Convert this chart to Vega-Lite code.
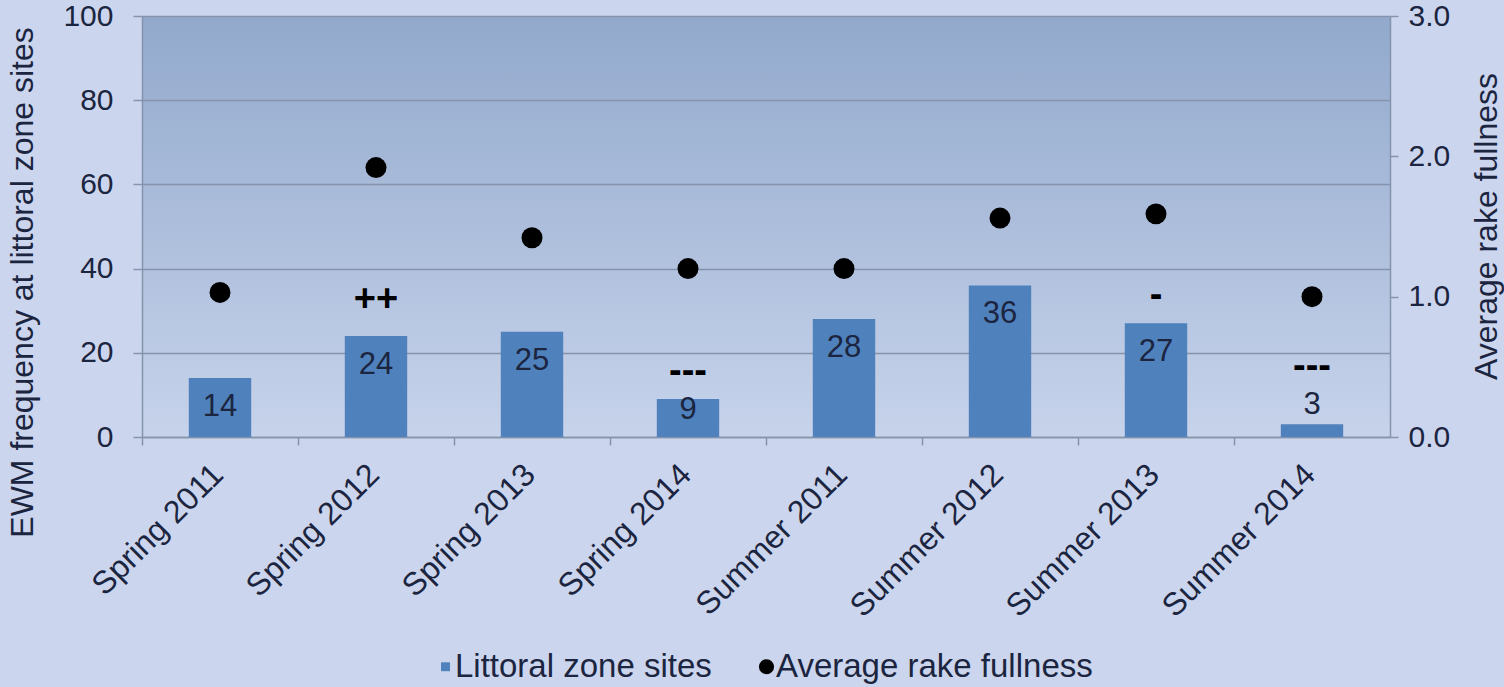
{
  "$schema": "https://vega.github.io/schema/vega-lite/v6.json",
  "width": 1248,
  "height": 421,
  "autosize": {"type": "none"},
  "padding": {"left": 142, "top": 16, "right": 114, "bottom": 250},
  "background": "#cbd6ee",
  "config": {
    "font": "Liberation Sans",
    "view": {
      "stroke": null,
      "fill": {
        "gradient": "linear",
        "x1": 0, "y1": 0, "x2": 0, "y2": 1,
        "stops": [
          {"offset": 0, "color": "#92a9cc"},
          {"offset": 1, "color": "#c7d3eb"}
        ]
      }
    },
    "axis": {
      "labelFont": "Liberation Sans",
      "titleFont": "Liberation Sans",
      "labelColor": "#1c2540",
      "titleColor": "#1c2540",
      "labelFontSize": 30,
      "titleFontSize": 32,
      "titleFontWeight": "normal",
      "labelLimit": 400,
      "domainColor": "#8593ad",
      "domainWidth": 1.5,
      "tickColor": "#8593ad",
      "tickWidth": 1.5,
      "gridColor": "#8593ad",
      "gridWidth": 1.5
    },
    "legend": {
      "orient": "none",
      "direction": "horizontal",
      "legendX": 287,
      "legendY": 634,
      "labelFont": "Liberation Sans",
      "labelFontSize": 33,
      "labelColor": "#1c2540",
      "labelLimit": 500,
      "columnPadding": 38,
      "labelOffset": -7,
      "symbolStrokeWidth": 0
    }
  },
  "data": {
    "values": [
      {"season": "Spring 2011", "sites": 14, "rake": 1.03, "sig": ""},
      {"season": "Spring 2012", "sites": 24, "rake": 1.92, "sig": "++"},
      {"season": "Spring 2013", "sites": 25, "rake": 1.42, "sig": ""},
      {"season": "Spring 2014", "sites": 9, "rake": 1.2, "sig": "---"},
      {"season": "Summer 2011", "sites": 28, "rake": 1.2, "sig": ""},
      {"season": "Summer 2012", "sites": 36, "rake": 1.56, "sig": ""},
      {"season": "Summer 2013", "sites": 27, "rake": 1.59, "sig": "-"},
      {"season": "Summer 2014", "sites": 3, "rake": 1.0, "sig": "---"}
    ]
  },
  "encoding": {
    "x": {
      "field": "season",
      "type": "nominal",
      "sort": null,
      "scale": {"paddingInner": 0, "paddingOuter": 0},
      "axis": {
        "title": null,
        "bandPosition": 0,
        "labelAngle": -45,
        "labelAlign": "right",
        "labelBaseline": "middle",
        "labelFontSize": 32,
        "labelOffset": -2,
        "labelPadding": 24,
        "tickSize": 8
      }
    }
  },
  "layer": [
    {
      "layer": [
        {
          "mark": {"type": "bar", "width": {"band": 0.4}},
          "encoding": {
            "y": {
              "field": "sites",
              "type": "quantitative",
              "scale": {"domain": [0, 100]},
              "axis": {
                "title": "EWM frequency at littoral zone sites",
                "values": [0, 20, 40, 60, 80, 100],
                "tickSize": 9,
                "labelPadding": 20,
                "grid": true,
                "titleAngle": 270,
                "titleX": -120,
                "titleY": 266,
                "titleAlign": "center",
                "titleBaseline": "middle"
              }
            },
            "color": {
              "datum": "Littoral zone sites",
              "scale": {
                "domain": ["Littoral zone sites", "Average rake fullness"],
                "range": ["#4f81bd", "#000000"]
              },
              "legend": {
                "title": null,
                "encode": {
                  "symbols": {
                    "update": {
                      "shape": {"signal": "datum.value === 'Littoral zone sites' ? 'square' : 'circle'"},
                      "size": {"signal": "datum.value === 'Littoral zone sites' ? 80 : 230"}
                    }
                  }
                }
              }
            }
          }
        },
        {
          "mark": {
            "type": "text",
            "fontSize": 31,
            "color": "#1c2540",
            "baseline": "middle",
            "dy": {"expr": "datum.sites >= 12 ? 29 : datum.sites >= 6 ? 11 : -19"}
          },
          "encoding": {
            "y": {"field": "sites", "type": "quantitative"},
            "text": {"field": "sites", "type": "quantitative"}
          }
        },
        {
          "transform": [{"filter": "datum.sig !== ''"}],
          "mark": {
            "type": "text",
            "fontSize": 38,
            "fontWeight": "bold",
            "color": "#000000",
            "baseline": "middle",
            "dy": {"expr": "datum.sig === '++' ? -36 : datum.sites < 6 ? -57 : -27"}
          },
          "encoding": {
            "y": {"field": "sites", "type": "quantitative"},
            "text": {"field": "sig"}
          }
        }
      ]
    },
    {
      "mark": {"type": "point", "filled": true, "size": 440, "opacity": 1},
      "encoding": {
        "y": {
          "field": "rake",
          "type": "quantitative",
          "scale": {"domain": [0, 3]},
          "axis": {
            "orient": "right",
            "title": "Average rake fullness",
            "values": [0, 1, 2, 3],
            "format": ".1f",
            "grid": false,
            "tickSize": 8,
            "labelPadding": 10,
            "titleAngle": 270,
            "titleX": 96,
            "titleY": 210,
            "titleAlign": "center",
            "titleBaseline": "middle"
          }
        },
        "color": {"datum": "Average rake fullness"}
      }
    }
  ],
  "resolve": {"scale": {"y": "independent"}}
}
